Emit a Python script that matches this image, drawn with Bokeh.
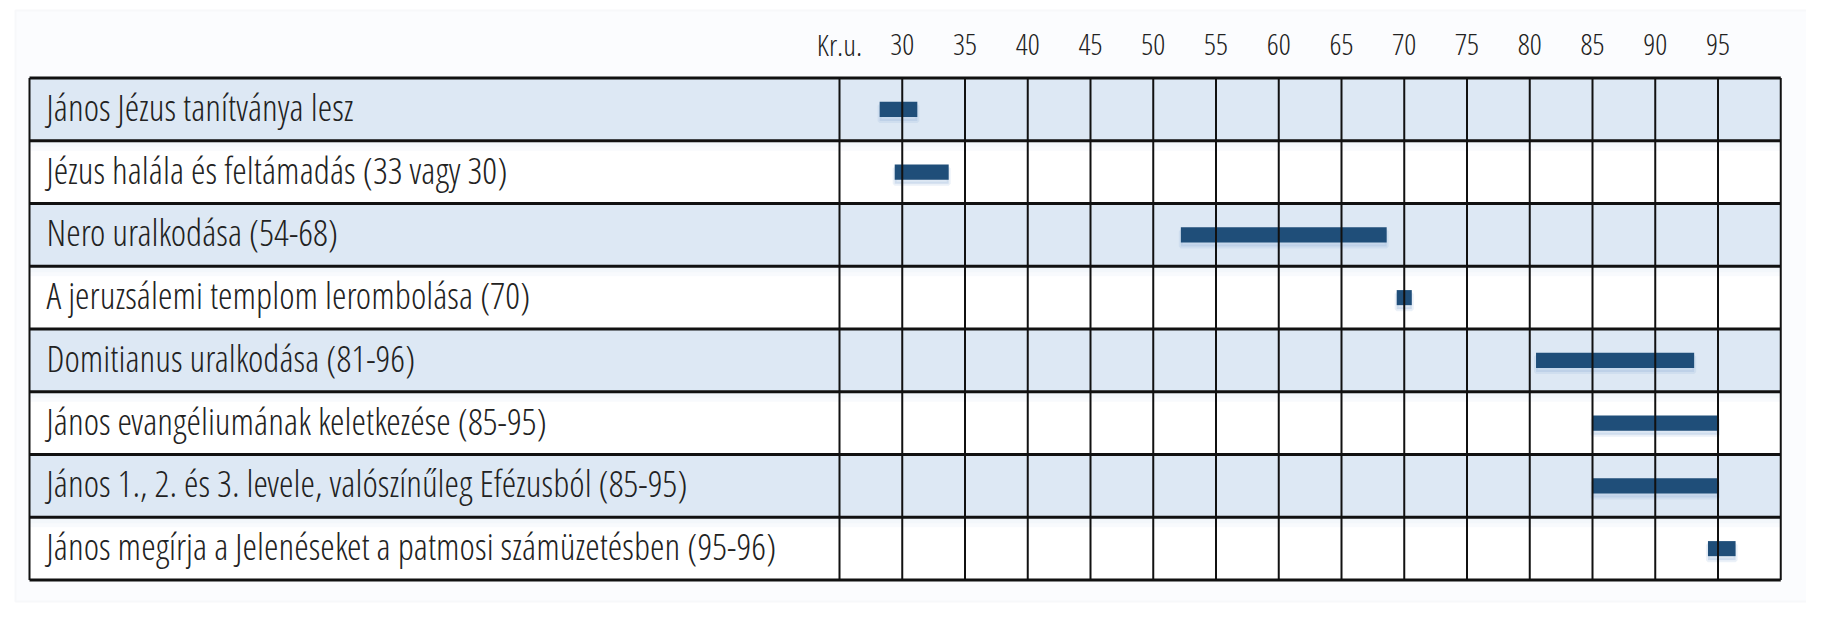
from bokeh.plotting import figure
from bokeh.models import Range1d, ColumnDataSource
from bokeh.core.properties import value
from bokeh.embed import file_html
from bokeh.resources import INLINE

# ---------------- data ----------------
events = [
    "János Jézus tanítványa lesz",
    "Jézus halála és feltámadás (33 vagy 30)",
    "Nero uralkodása (54-68)",
    "A jeruzsálemi templom lerombolása (70)",
    "Domitianus uralkodása (81-96)",
    "János evangéliumának keletkezése (85-95)",
    "János 1., 2. és 3. levele, valószínűleg Efézusból (85-95)",
    "János megírja a Jelenéseket a patmosi számüzetésben (95-96)",
]
starts = [28.2, 29.4, 52.2, 69.4, 80.5, 85.0, 85.0, 94.2]
ends = [31.2, 33.7, 68.6, 70.6, 93.1, 95.0, 95.0, 96.4]
tick_years = [25, 30, 35, 40, 45, 50, 55, 60, 65, 70, 75, 80, 85, 90, 95]
tick_labels = ["Kr.u.", "30", "35", "40", "45", "50", "55", "60", "65", "70", "75", "80", "85", "90", "95"]
grid_start, grid_end, grid_step = 25, 100, 5

# ---------------- layout ----------------
W, H = 1806, 603
PX_YEAR = 12.55          # pixels per year
X0_PX = 839              # canvas x of year 25
ROW_PX = 62.75
TOP_PX = 77.5
x_start = grid_start - X0_PX / PX_YEAR
x_end = x_start + W / PX_YEAR
y_top = -TOP_PX / ROW_PX
y_bot = (H - TOP_PX) / ROW_PX
label_left = grid_start - (839 - 29) / PX_YEAR
text_x = grid_start - (839 - 46) / PX_YEAR
text_dy = -3 / ROW_PX
tick_y = -0.5 - 2 / ROW_PX
panel_l = x_start + 15 / PX_YEAR
panel_r = grid_end + 30 / PX_YEAR
panel_t = y_top + 10 / ROW_PX
panel_b = y_bot - 2 / ROW_PX
n = len(events)

FONT = "Open Sans Condensed Light"

p = figure(width=W, height=H, x_range=Range1d(x_start, x_end), y_range=Range1d(y_bot, y_top),
           output_backend="svg", toolbar_location=None, min_border=0)
p.axis.visible = False
p.grid.visible = False
p.outline_line_color = None
p.background_fill_color = "white"
p.border_fill_color = "white"

# faint panel behind everything
p.quad(left=[panel_l], right=[panel_r], top=[panel_t], bottom=[panel_b],
       fill_color="#fbfcfe", line_color="#f7f8fa", line_width=2)

rows = list(range(n))
# row backgrounds
fills = ["#dde8f4" if i % 2 == 0 else "white" for i in rows]
p.quad(left=label_left, right=grid_end, top=rows, bottom=[r + 1 for r in rows],
       fill_color=fills, line_color=None)

# soft glow below each separator (white rows)
for k, a in enumerate([0.55, 0.35, 0.2]):
    off = (2 + 4 * k) / ROW_PX
    p.quad(left=label_left, right=grid_end, top=[r + off - 4 / ROW_PX for r in rows if r % 2 == 1],
           bottom=[r + off for r in rows if r % 2 == 1],
           fill_color="#dde8f4", fill_alpha=a, line_color=None)

# bar shadows + bars
ys = [r + 0.5 for r in rows]
src = ColumnDataSource(dict(left=starts, right=ends, y=ys, ys=[y + 4 / ROW_PX for y in ys]))
p.hbar(y="ys", left="left", right="right", height=0.24, source=src,
       fill_color="#9dbbdc", fill_alpha=0.35, line_color="#9dbbdc", line_alpha=0.2, line_width=4)
p.hbar(y="y", left="left", right="right", height=0.24, source=src,
       fill_color="#1f4e79", line_color=None)

# vertical lines
vx = list(range(grid_start, grid_end + 1, grid_step))
p.segment(x0=vx, x1=vx, y0=0, y1=n, line_color="#111111", line_width=2)
p.segment(x0=[label_left], x1=[label_left], y0=0, y1=n, line_color="#111111", line_width=2)
# horizontal lines
hy = list(range(0, n + 1))
p.segment(x0=label_left, x1=grid_end, y0=hy, y1=hy, line_color="#111111", line_width=3)

# labels
p.text(x=text_x, y=[r + 0.5 + text_dy for r in rows], text=events, text_font=value(FONT),
       text_font_size="37px", text_baseline="middle", text_color="#222222")
p.text(x=tick_years, y=tick_y, text=tick_labels, text_font=value(FONT), text_font_size="30px",
       text_align="center", text_baseline="middle", text_color="#222222")

open("out.html", "w").write(file_html(p, INLINE))
